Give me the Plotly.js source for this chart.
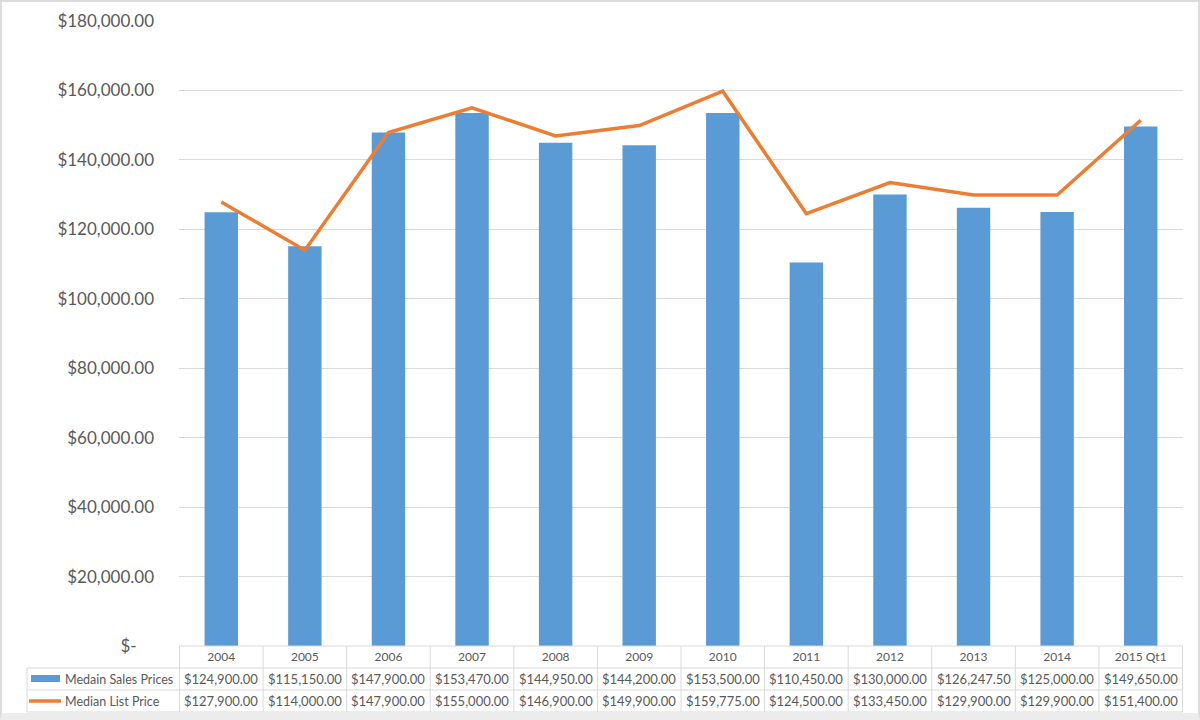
<!DOCTYPE html>
<html>
<head>
<meta charset="utf-8">
<script src="https://cdn.plot.ly/plotly-3.0.1.min.js"></script>
<style>
  body { margin: 0; background: #fff; }
  #chart { width: 1200px; height: 720px; }
  #frame { position: absolute; left: 0; top: 0; width: 1200px; height: 720px; box-sizing: border-box;
           border: 2px solid #dcdcdc; border-bottom-width: 7px; border-bottom-color: #ececec; pointer-events: none; }
</style>
</head>
<body>
<div id="chart"></div>
<div id="frame"></div>
<script>
var years = ['2004', '2005', '2006', '2007', '2008', '2009', '2010', '2011', '2012', '2013', '2014', '2015 Qt1'];
var salesPrices = [124900, 115150, 147900, 153470, 144950, 144200, 153500, 110450, 130000, 126247.5, 125000, 149650];
var listPrices = [127900, 114000, 147900, 155000, 146900, 149900, 159775, 124500, 133450, 129900, 129900, 151400];
var yTicks = [0, 20000, 40000, 60000, 80000, 100000, 120000, 140000, 160000, 180000];

var BLUE = '#5b9bd5';
var ORANGE = '#ed7d31';
var GRID = '#d9d9d9';
var TXT = '#595959';

function money(v) {
  return '$' + v.toLocaleString('en-US', {minimumFractionDigits: 2, maximumFractionDigits: 2});
}

// pixel helpers for the data table under the plot (plot area 179..1183 x 21..646)
var L = 179, R = 1183, T = 21, B = 646;
function px(x) { return (x - L) / (R - L); }
function py(y) { return (B - y) / (B - T); }

var data = [
  {
    name: 'Medain Sales Prices',
    type: 'bar',
    x: years,
    y: salesPrices,
    width: 0.4,
    marker: {color: BLUE},
    hoverinfo: 'x+y'
  },
  {
    name: 'Median List Price',
    type: 'scatter',
    mode: 'lines',
    x: years,
    y: listPrices,
    line: {color: ORANGE, width: 3.5},
    hoverinfo: 'x+y'
  }
];

var shapes = [];
var annotations = [];

// vertical table lines
for (var i = 0; i <= years.length; i++) {
  shapes.push({type: 'line', xref: 'x', yref: 'paper', x0: i - 0.5, x1: i - 0.5,
    y0: 0, y1: py(712), line: {color: GRID, width: 1}});
}
shapes.push({type: 'line', xref: 'paper', yref: 'paper', x0: px(27), x1: px(27),
  y0: py(668), y1: py(712), line: {color: GRID, width: 1}});
// horizontal table lines
shapes.push({type: 'line', xref: 'paper', yref: 'paper', x0: 0, x1: 1, y0: 0, y1: 0, line: {color: GRID, width: 1}});
[668, 690, 712].forEach(function (y) {
  shapes.push({type: 'line', xref: 'paper', yref: 'paper', x0: px(27), x1: 1,
    y0: py(y), y1: py(y), line: {color: GRID, width: 1}});
});
// legend keys
shapes.push({type: 'rect', xref: 'paper', yref: 'paper', x0: px(31), x1: px(60),
  y0: py(682), y1: py(675), fillcolor: BLUE, line: {width: 0}});
shapes.push({type: 'line', xref: 'paper', yref: 'paper', x0: px(29), x1: px(61),
  y0: py(701), y1: py(701), line: {color: ORANGE, width: 3.5}});

annotations.push({xref: 'paper', yref: 'paper', x: px(63), y: py(679), xanchor: 'left', yanchor: 'middle',
  text: data[0].name, showarrow: false, font: {size: 12.5, color: TXT}});
annotations.push({xref: 'paper', yref: 'paper', x: px(63), y: py(701), xanchor: 'left', yanchor: 'middle',
  text: data[1].name, showarrow: false, font: {size: 12.5, color: TXT}});

years.forEach(function (yr, i) {
  annotations.push({xref: 'x', yref: 'paper', x: i, y: py(679), xanchor: 'center', yanchor: 'middle',
    text: money(salesPrices[i]), showarrow: false, font: {size: 13, color: TXT}});
  annotations.push({xref: 'x', yref: 'paper', x: i, y: py(701), xanchor: 'center', yanchor: 'middle',
    text: money(listPrices[i]), showarrow: false, font: {size: 13, color: TXT}});
});

var layout = {
  width: 1200,
  height: 720,
  margin: {l: L, r: 1200 - R, t: T, b: 720 - B},
  paper_bgcolor: '#fff',
  plot_bgcolor: '#fff',
  font: {family: 'Lato, "Open Sans", sans-serif', color: TXT},
  showlegend: false,
  xaxis: {
    type: 'category',
    showgrid: false,
    zeroline: false,
    showline: false,
    ticks: '',
    tickfont: {size: 12, color: TXT},
    ticklabelstandoff: 2,
    fixedrange: true
  },
  yaxis: {
    range: [0, 180000],
    tickvals: yTicks,
    ticktext: yTicks.map(function (v) { return v === 0 ? '$-\u00a0\u00a0\u00a0\u00a0' : money(v); }),
    tickfont: {size: 17, color: TXT},
    ticklabelstandoff: 24,
    gridcolor: GRID,
    gridwidth: 1,
    zeroline: false,
    showline: false,
    ticks: '',
    fixedrange: true
  },
  shapes: shapes,
  annotations: annotations
};

Plotly.newPlot('chart', data, layout, {displayModeBar: false});
</script>
</body>
</html>
